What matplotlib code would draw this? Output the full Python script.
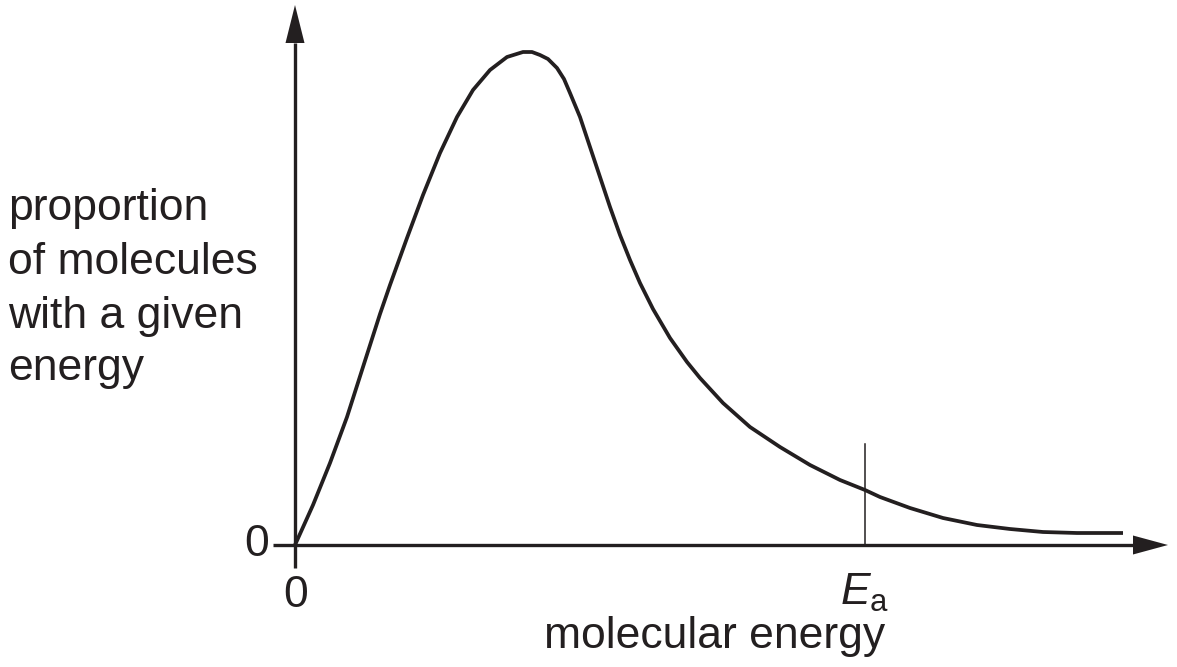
import matplotlib
matplotlib.use("Agg")
import matplotlib.pyplot as plt

# Maxwell-Boltzmann curve (energy, proportion), arbitrary units
energy = [0.00, 0.18, 0.35, 0.52, 0.68, 0.85, 0.95, 1.12, 1.28, 1.45, 1.62, 1.78,
          1.95, 2.12, 2.28, 2.37, 2.45, 2.53, 2.62, 2.69, 2.75, 2.85, 2.95, 3.05,
          3.15, 3.25, 3.35, 3.45, 3.58, 3.75, 3.92, 4.05, 4.28, 4.55, 4.85, 5.15,
          5.45, 5.70, 5.85, 6.15, 6.48, 6.82, 7.15, 7.48, 7.82, 8.28]
proportion = [0.00, 0.40, 0.82, 1.28, 1.78, 2.31, 2.60, 3.07, 3.50, 3.92, 4.28, 4.55,
              4.75, 4.88, 4.93, 4.93, 4.90, 4.86, 4.77, 4.66, 4.52, 4.28, 3.98, 3.68,
              3.38, 3.10, 2.85, 2.62, 2.36, 2.07, 1.83, 1.67, 1.42, 1.18, 0.98, 0.80,
              0.65, 0.55, 0.48, 0.37, 0.27, 0.20, 0.16, 0.13, 0.12, 0.12]

ea_value = 5.70
ea_marker_top = 1.01

ylabel_lines = ["proportion", "of molecules", "with a given", "energy"]
ylabel_baselines = [3.25, 2.71, 2.17, 1.65]
xlabel = "molecular energy"

ink = "#231f20"
plt.rcParams["font.family"] = ["Liberation Sans", "DejaVu Sans"]
plt.rcParams["mathtext.fontset"] = "custom"
plt.rcParams["mathtext.rm"] = "Liberation Sans"
plt.rcParams["mathtext.it"] = "Liberation Sans:italic"

fig = plt.figure(figsize=(11.77, 6.67), dpi=100)
ax = fig.add_axes([0, 0, 1, 1])
ax.set_xlim(-2.95, 8.82)
ax.set_ylim(-1.22, 5.45)
ax.axis("off")

# axes with arrow heads
x_end, y_end = 8.73, 5.40
head_len_x, head_len_y, head_w = 0.35, 0.38, 0.095
ax.plot([-0.22, x_end - head_len_x], [0, 0], color=ink, lw=2.4, solid_capstyle="butt")
ax.plot([0, 0], [-0.23, y_end - head_len_y], color=ink, lw=2.4, solid_capstyle="butt")
ax.fill([x_end - head_len_x, x_end, x_end - head_len_x], [-head_w, 0, head_w], color=ink, lw=0)
ax.fill([-head_w, 0, head_w], [y_end - head_len_y, y_end, y_end - head_len_y], color=ink, lw=0)

# distribution curve
ax.plot(energy, proportion, color=ink, lw=2.7, solid_joinstyle="round", solid_capstyle="butt")

# activation energy marker
ax.plot([ea_value, ea_value], [0, ea_marker_top], color=ink, lw=1.1)

fs = 32
ax.text(-0.385, 0, "0", fontsize=fs, color=ink, ha="center", va="center")
ax.text(0.01, -0.30, "0", fontsize=fs, color=ink, ha="center", va="top")
ax.text(ea_value, -0.27, r"$E_\mathrm{a}$", fontsize=fs, color=ink, ha="center", va="top")
ax.text(4.20, -0.71, xlabel, fontsize=fs, color=ink, ha="center", va="top")
for line, yb in zip(ylabel_lines, ylabel_baselines):
    ax.text(-2.87, yb, line, fontsize=fs, color=ink, ha="left", va="baseline")

fig.savefig("out.png", dpi=100)
